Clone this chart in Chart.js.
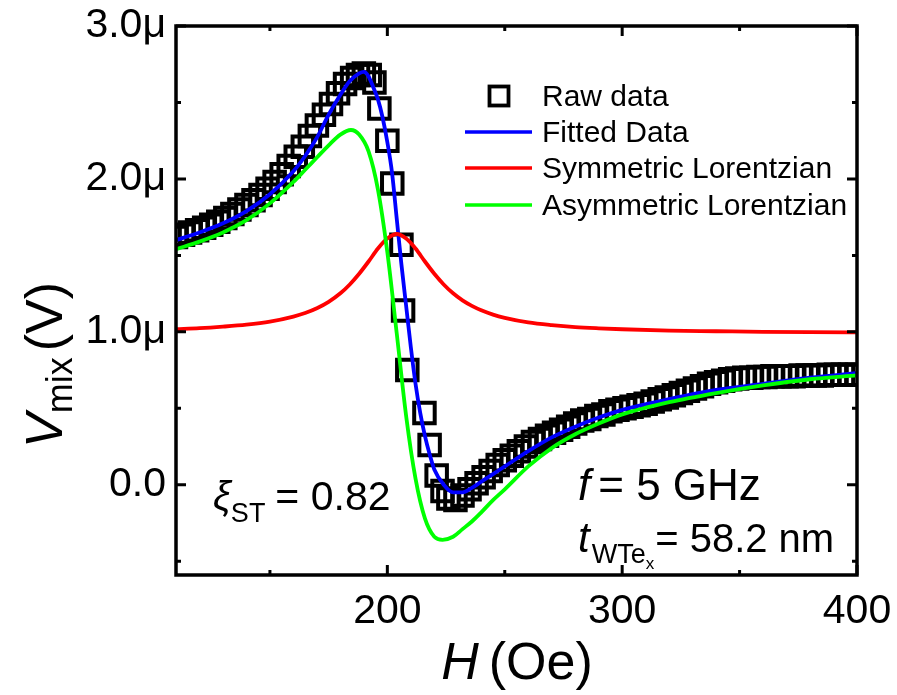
<!DOCTYPE html>
<html><head><meta charset="utf-8">
<script src="https://cdn.jsdelivr.net/npm/chart.js@4"></script>
<style>html,body{margin:0;padding:0;background:#fff;}canvas{display:block;}</style>
</head><body>
<canvas id="c" width="897" height="695" style="width:897px;height:695px"></canvas>
<script>
// ---------- data (H in Oe, V in µV) ----------
const rawH = [110,113,116,119,122,125,128,131,134,137,140,143,146,149,152,155,158,161,164,167,170,173,176,179,182,185,187.5,190,192.5,194.5,196.6,200,202.1,206,206.7,208.5,215.8,218,221,223.5,226,229,232,235,238,241,244,247,250,253,256,259,262,265,268,271,274,277,280,283,286,289,292,295,298,301,304,307,310,313,316,319,322,325,328,331,334,337,340,343,346,349,352,355,358,361,364,367,370,373,376,379,382,385,388,391,394,397,400];
const rawV = [1.62,1.635,1.65,1.665,1.68,1.70,1.72,1.745,1.77,1.80,1.83,1.86,1.895,1.935,1.98,2.03,2.085,2.145,2.21,2.28,2.35,2.42,2.49,2.56,2.62,2.66,2.68,2.69,2.68,2.63,2.46,2.25,1.97,1.57,1.14,0.75,0.47,0.26,0.06,-0.04,-0.09,-0.10,-0.07,-0.03,0.01,0.05,0.09,0.13,0.16,0.19,0.22,0.25,0.28,0.30,0.32,0.34,0.36,0.38,0.40,0.42,0.43,0.45,0.46,0.48,0.49,0.50,0.51,0.52,0.53,0.545,0.56,0.57,0.585,0.60,0.615,0.63,0.645,0.66,0.67,0.68,0.69,0.695,0.70,0.70,0.705,0.705,0.71,0.71,0.71,0.71,0.715,0.715,0.715,0.715,0.72,0.72,0.72,0.72,0.72];

const fitH = [110,120,130,140,150,160,165,170,175,180,184,188,190,192,194,196,198,200,202,204,206,208,210,212,214,216,218,220,224,228,232,236,240,245,250,260,270,280,290,300,320,340,360,380,400];
const fitV = [1.60,1.65,1.71,1.79,1.90,2.05,2.15,2.27,2.42,2.55,2.64,2.69,2.70,2.67,2.60,2.52,2.40,2.24,2.04,1.74,1.44,1.17,0.90,0.66,0.47,0.32,0.20,0.10,0.00,-0.05,-0.05,-0.02,0.02,0.07,0.12,0.22,0.31,0.38,0.44,0.49,0.56,0.62,0.66,0.70,0.73];

const symH = [110,120,130,140,150,160,165,170,175,180,184,188,192,196,200,204,208,212,216,220,224,228,232,236,240,245,250,260,270,280,290,300,320,340,360,380,400];
const symV = [1.018,1.024,1.034,1.047,1.067,1.100,1.123,1.154,1.196,1.252,1.31,1.38,1.46,1.545,1.61,1.64,1.61,1.545,1.46,1.38,1.31,1.252,1.206,1.170,1.141,1.113,1.092,1.062,1.044,1.031,1.023,1.017,1.008,1.004,1.000,0.998,0.997];

const asymH = [110,120,130,140,150,160,165,170,175,180,184.5,188,192,196,200,204,208,212,216,220,223.5,228,232,236,240,245,250,260,270,280,290,300,320,340,360,380,400];
const asymV = [1.54,1.59,1.65,1.73,1.84,1.98,2.06,2.14,2.22,2.29,2.32,2.29,2.18,1.93,1.52,0.99,0.45,0.04,-0.22,-0.34,-0.36,-0.34,-0.29,-0.24,-0.18,-0.10,-0.03,0.12,0.24,0.33,0.40,0.46,0.54,0.60,0.65,0.69,0.715];

const seriesNames = ['Raw data','Fitted Data','Symmetric Lorentzian','Asymmetric Lorentzian'];
const xMajorTicks = [200,300,400];
const xTickLabels = ['200','300','400'];
const xMinorTicks = [150,250,350];
const yMajorTicks = [0,1,2,3];
const yTickLabels = ['0.0','1.0\u03bc','2.0\u03bc','3.0\u03bc'];
const yMinorTicks = [-0.5,0.5,1.5,2.5];

const pts = (xs, ys) => xs.map((x, i) => ({x: x, y: ys[i]}));
const FONT = "'Liberation Sans', Arial, sans-serif";

const overlay = {
  id: 'overlay',
  afterDatasetsDraw(chart) {
    const {ctx, chartArea: a, scales: {x, y}} = chart;
    ctx.save();
    ctx.strokeStyle = '#000';
    ctx.lineWidth = 3.5;
    ctx.lineCap = 'butt';
    ctx.strokeRect(a.left, a.top, a.right - a.left, a.bottom - a.top);
    ctx.lineWidth = 3;
    const xt = (v, len) => { const p = x.getPixelForValue(v);
      ctx.beginPath(); ctx.moveTo(p, a.bottom); ctx.lineTo(p, a.bottom - len);
      ctx.moveTo(p, a.top); ctx.lineTo(p, a.top + len); ctx.stroke(); };
    const yt = (v, len) => { const p = y.getPixelForValue(v);
      ctx.beginPath(); ctx.moveTo(a.left, p); ctx.lineTo(a.left + len, p);
      ctx.moveTo(a.right, p); ctx.lineTo(a.right - len, p); ctx.stroke(); };
    xMajorTicks.forEach(v => xt(v, 10)); xMinorTicks.forEach(v => xt(v, 5));
    yMajorTicks.forEach(v => yt(v, 10)); yMinorTicks.forEach(v => yt(v, 5));

    // legend
    const ds = chart.data.datasets;
    const lx0 = 465, lx1 = 532, tx = 542, rows = [96, 132, 168, 205];
    ctx.font = '30px ' + FONT; ctx.fillStyle = '#000'; ctx.textBaseline = 'alphabetic'; ctx.textAlign = 'left';
    rows.forEach((ry, i) => {
      const d = ds[i];
      if (i === 0) {
        ctx.lineWidth = 3.8; ctx.strokeStyle = '#000';
        ctx.strokeRect(499 - 9.5, ry - 9.5, 19, 19);
      } else {
        ctx.lineWidth = 3.5; ctx.strokeStyle = d.borderColor;
        ctx.beginPath(); ctx.moveTo(lx0, ry); ctx.lineTo(lx1, ry); ctx.stroke();
      }
      ctx.font = '30px ' + FONT;
      ctx.fillText(d.label, tx, ry + 10);
    });

    // rich text helper
    const run = (parts, x0, base) => {
      let cx = x0;
      parts.forEach(p => {
        ctx.font = (p.it ? 'italic ' : '') + p.s + 'px ' + FONT;
        ctx.fillText(p.t, cx, base + (p.dy || 0));
        cx += ctx.measureText(p.t).width + (p.gap || 0);
      });
      return cx;
    };
    const width = (parts) => parts.reduce((w, p) => { ctx.font = (p.it ? 'italic ' : '') + p.s + 'px ' + FONT; return w + ctx.measureText(p.t).width + (p.gap || 0); }, 0);

    // annotations
    run([{t: '\u03be', s: 40, it: true}, {t: 'ST', s: 27, dy: 12, gap: 10}, {t: '= 0.82', s: 41}], 213, 510);
    run([{t: 'f', s: 44, it: true, gap: 8}, {t: '= 5 GHz', s: 44}], 578, 500);
    run([{t: 't', s: 42, it: true, gap: 2}, {t: 'WTe', s: 27, dy: 11}, {t: 'x', s: 17, dy: 17, gap: 1}, {t: '= 58.2 nm', s: 40}], 578, 552);

    // axis titles
    const xt2 = [{t: 'H', s: 52, it: true, gap: 10}, {t: '(Oe)', s: 52}];
    run(xt2, 517 - width(xt2) / 2, 679);
    const yt2 = [{t: 'V', s: 52, it: true}, {t: 'mix', s: 36, dy: 10, gap: 6}, {t: '(V)', s: 52}];
    ctx.translate(62, 365); ctx.rotate(-Math.PI / 2);
    run(yt2, -width(yt2) / 2, 0);
    ctx.restore();
  }
};

new Chart(document.getElementById('c'), {
  type: 'scatter',
  data: {
    datasets: [
      {label: seriesNames[0], data: pts(rawH, rawV), showLine: false, pointStyle: 'rect', pointRadius: 14.5, pointBorderWidth: 4,
       borderColor: '#000', backgroundColor: 'rgba(0,0,0,0)', order: 4},
      {label: seriesNames[1], data: pts(fitH, fitV), showLine: true, borderColor: '#0000ff', borderWidth: 3.8, pointRadius: 0,
       cubicInterpolationMode: 'monotone', order: 3},
      {label: seriesNames[2], data: pts(symH, symV), showLine: true, borderColor: '#ff0000', borderWidth: 3.8, pointRadius: 0,
       cubicInterpolationMode: 'monotone', order: 2},
      {label: seriesNames[3], data: pts(asymH, asymV), showLine: true, borderColor: '#00ff00', borderWidth: 3.8, pointRadius: 0,
       cubicInterpolationMode: 'monotone', order: 1}
    ]
  },
  options: {
    responsive: false, animation: false, devicePixelRatio: 1,
    layout: {padding: {top: 26, right: 40, left: 0, bottom: 0}},
    plugins: {legend: {display: false}, tooltip: {enabled: false}},
    scales: {
      x: {type: 'linear', min: 110, max: 400,
          afterBuildTicks(s) { s.ticks = xMinorTicks.concat(xMajorTicks).sort((a, b) => a - b).map(v => ({value: v})); },
          afterFit(s) { s.height = 120; s.paddingLeft = 0; s.paddingRight = 0; },
          grid: {display: false, drawTicks: false}, border: {display: false},
          ticks: {padding: 12, color: '#000', font: {family: FONT, size: 41}, maxRotation: 0, autoSkip: false,
                  callback: v => { const i = xMajorTicks.indexOf(v); return i >= 0 ? xTickLabels[i] : ''; }}},
      y: {type: 'linear', min: -0.59, max: 3.0,
          afterBuildTicks(s) { s.ticks = yMinorTicks.concat(yMajorTicks).sort((a, b) => a - b).map(v => ({value: v})); },
          afterFit(s) { s.width = 176; s.paddingTop = 0; s.paddingBottom = 0; },
          grid: {display: false, drawTicks: false}, border: {display: false},
          ticks: {padding: 10, color: '#000', font: {family: FONT, size: 41}, autoSkip: false,
                  callback: v => { const i = yMajorTicks.indexOf(v); return i >= 0 ? yTickLabels[i] : ''; }}}
    }
  },
  plugins: [overlay]
});
</script>
</body></html>
